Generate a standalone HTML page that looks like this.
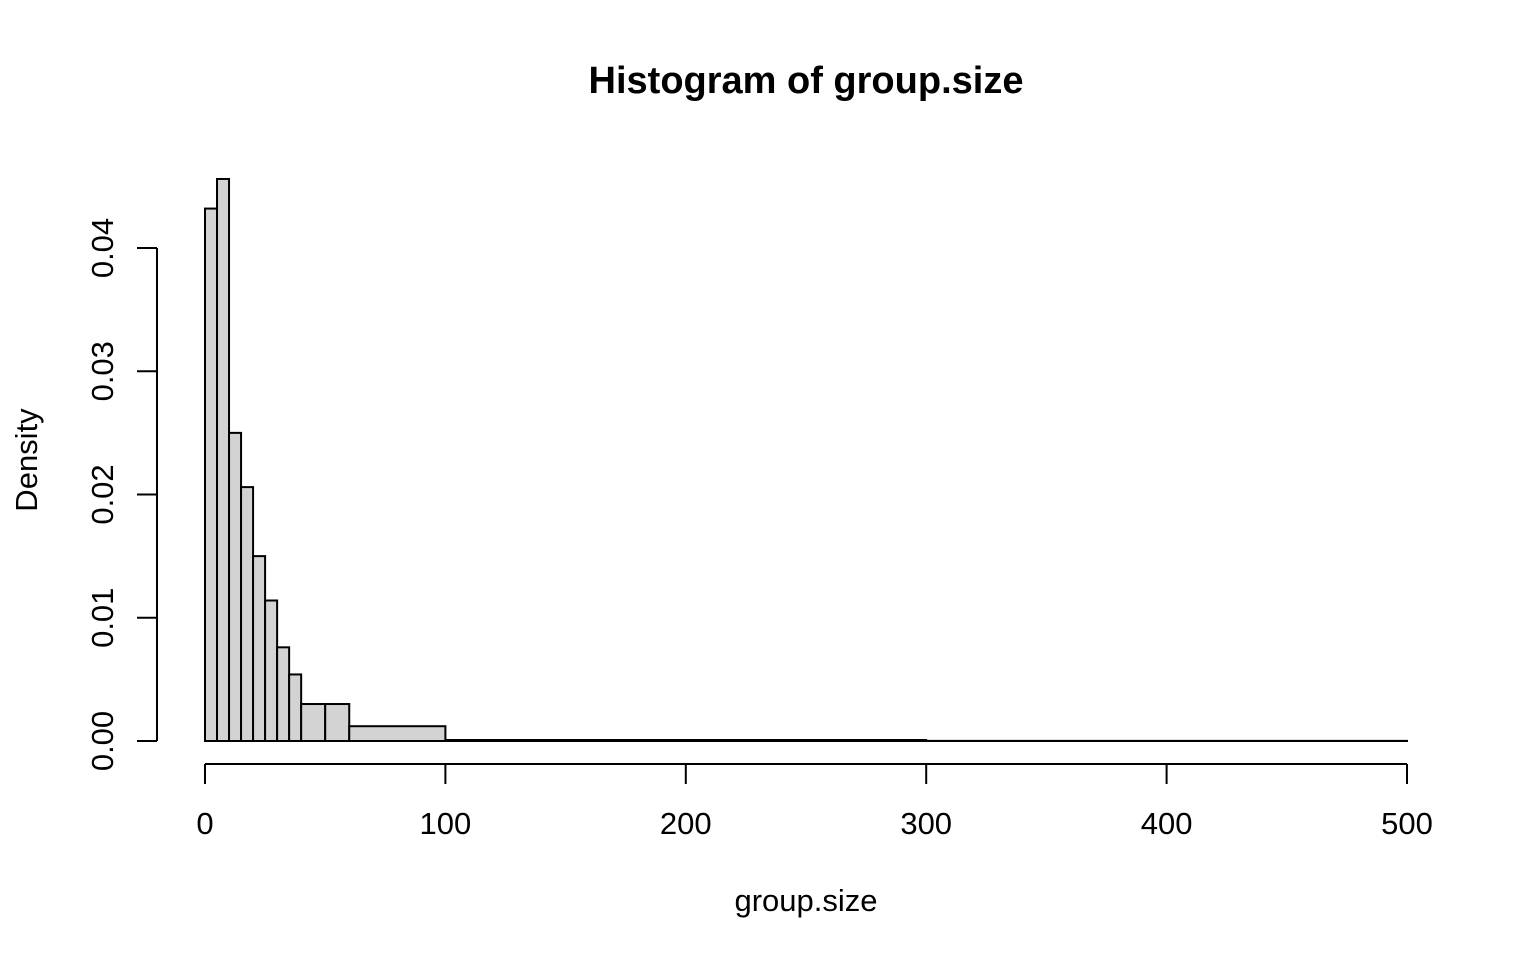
<!DOCTYPE html>
<html><head><meta charset="utf-8"><style>
body{margin:0;background:#fff}
svg text{font-family:"Liberation Sans",Arial,sans-serif;fill:#000}
</style></head><body>
<svg id="chart" width="1536" height="960">
<text x="806" y="93" font-size="38" font-weight="bold" text-anchor="middle">Histogram of group.size</text>
<text x="806" y="911" font-size="31" text-anchor="middle">group.size</text>
<text x="0" y="0" font-size="31" text-anchor="middle" transform="translate(37,460) rotate(-90)">Density</text>
<g id="bars"></g><g id="axes"></g>
</svg>
<script>
const breaks=[0,5,10,15,20,25,30,35,40,50,60,100,300,500];
const densities=[0.0432,0.0456,0.0250,0.0206,0.0150,0.0114,0.0076,0.0054,0.0030,0.0030,0.0012,0.00008,0.00001];
const xTicks=[0,100,200,300,400,500];
const yTicks=[0,0.01,0.02,0.03,0.04];
const yTickLabels=["0.00","0.01","0.02","0.03","0.04"];
const NS="http://www.w3.org/2000/svg";
const xs=v=>205+v*(1407-205)/500;
const ys=v=>741-v*(741-248)/0.04;
const bars=document.getElementById('bars'),axes=document.getElementById('axes');
function mk(tag,attrs,parent){const e=document.createElementNS(NS,tag);for(const k in attrs)e.setAttribute(k,attrs[k]);parent.appendChild(e);return e;}
densities.forEach((d,i)=>{
 const x0=xs(breaks[i]),x1=xs(breaks[i+1]),y=ys(d);
 const r=mk('rect',{x:x0,y:y,width:x1-x0,height:741-y,fill:'#d3d3d3',stroke:'#000','stroke-width':2},bars);
 
 
});
let l=mk('line',{x1:xs(0),x2:xs(500),y1:764,y2:764,stroke:'#000','stroke-width':2},axes);


xTicks.forEach(t=>{
 const tk=mk('line',{x1:xs(t),x2:xs(t),y1:764,y2:784,stroke:'#000','stroke-width':2},axes);
 
 
 const tx=mk('text',{x:xs(t),y:834,'font-size':31,'text-anchor':'middle'},axes);tx.textContent=t;
 
 
});
let l2=mk('line',{x1:157,x2:157,y1:ys(0),y2:ys(0.04),stroke:'#000','stroke-width':2},axes);


yTicks.forEach((t,i)=>{
 const tk=mk('line',{x1:137,x2:157,y1:ys(t),y2:ys(t),stroke:'#000','stroke-width':2},axes);
 
 
 const tx=mk('text',{x:0,y:0,'font-size':31,'text-anchor':'middle',transform:`translate(113,${ys(t)}) rotate(-90)`},axes);tx.textContent=yTickLabels[i];
 
 
});
</script>
</body></html>
